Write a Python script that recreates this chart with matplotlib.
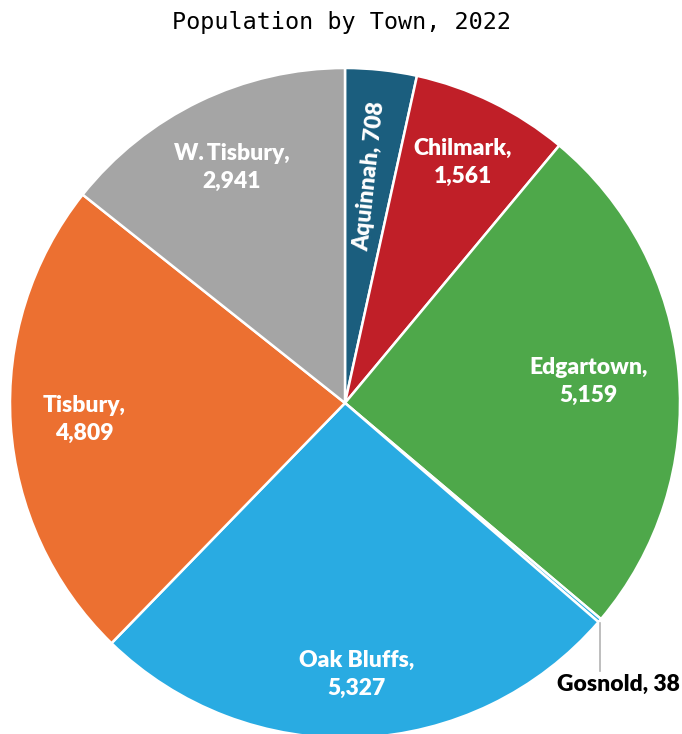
import numpy as np
import matplotlib.pyplot as plt

towns = ["Aquinnah", "Chilmark", "Edgartown", "Gosnold", "Oak Bluffs", "Tisbury", "W.\u2009Tisbury"]
population = [708, 1561, 5159, 38, 5327, 4809, 2941]
colors = ["#1b5e7e", "#c01f28", "#4ea84a", "#29abe2", "#29abe2", "#ec7031", "#a5a5a5"]
# label distance as a fraction of the radius, per slice
label_frac = [0.68, 0.80, 0.73, None, 0.81, 0.78, 0.78]

plt.rcParams["font.family"] = ["Lato", "DejaVu Sans"]
LABEL_SIZE = 16.5

fig = plt.figure(figsize=(6.82, 7.34), dpi=100)
ax = fig.add_axes([0, 0, 1, 1])
radius = 335

wedges, _ = ax.pie(
    population,
    colors=colors,
    startangle=90,
    counterclock=False,
    radius=radius,
    wedgeprops=dict(edgecolor="white", linewidth=1.8),
)
# pie() resets the limits, so set them afterwards (pixel units, centre at 0,0)
ax.set_xlim(-345, 337)
ax.set_ylim(-331, 403)
ax.set_aspect("equal")
ax.axis("off")

for w, name, val, frac in zip(wedges, towns, population, label_frac):
    mid = np.deg2rad((w.theta1 + w.theta2) / 2)
    if frac is None:
        # tiny slice: leader line down to an outside label
        x0, y0 = radius * np.cos(mid), radius * np.sin(mid)
        ax.plot([x0, x0], [y0 - 2, y0 - 50], color="#b3b3b3", lw=1.2)
        ax.text(x0 + 19, y0 - 64, f"{name}, {val:,}", ha="center", va="center",
                fontsize=LABEL_SIZE, fontweight="heavy", color="black")
        continue
    x, y = radius * frac * np.cos(mid), radius * frac * np.sin(mid)
    if name == "Aquinnah":
        ax.text(x, y, f"{name}, {val:,}", ha="center", va="center", rotation=84,
                fontsize=LABEL_SIZE, fontweight="heavy", color="white")
    else:
        ax.text(x, y, f"{name},\n{val:,}", ha="center", va="center", linespacing=1.4,
                fontsize=LABEL_SIZE, fontweight="heavy", color="white")

fig.text(0.5, 1 - 22 / 734, "Population by Town, 2022", ha="center", va="center",
         fontsize=16.8, family="DejaVu Sans Mono")

fig.savefig("out.png", dpi=100)
